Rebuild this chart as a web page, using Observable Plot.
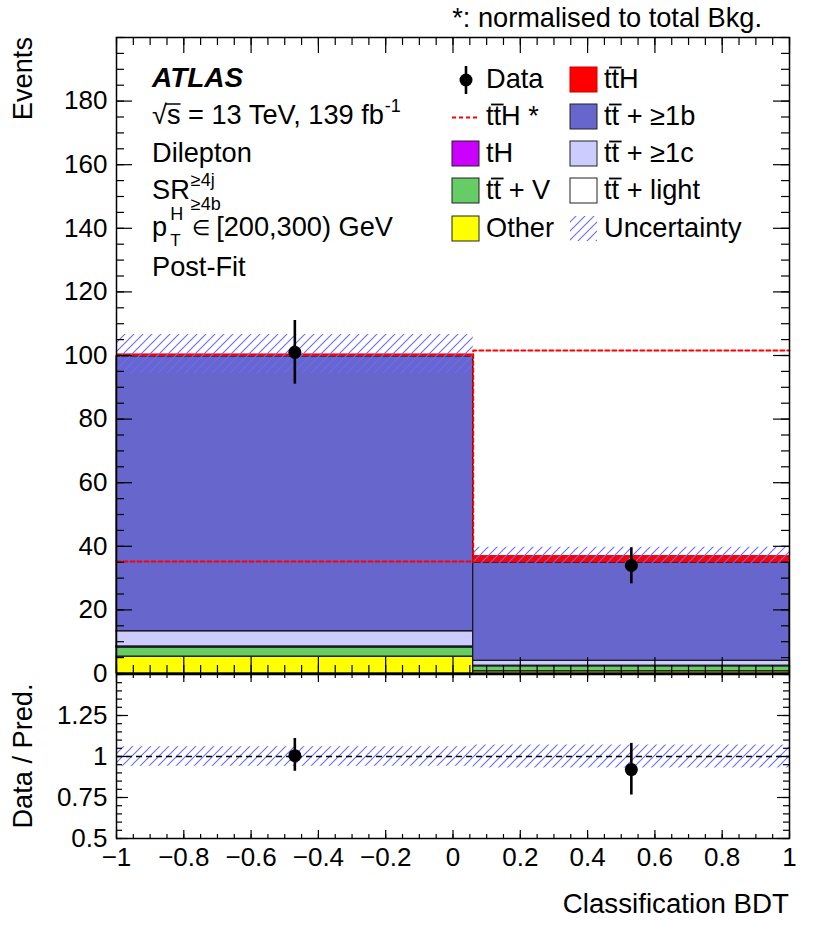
<!DOCTYPE html>
<html><head><meta charset="utf-8">
<script src="https://cdn.jsdelivr.net/npm/d3@7"></script>
<script src="https://cdn.jsdelivr.net/npm/@observablehq/plot@0.6"></script>
<style>
body{margin:0;background:#fff;}
#wrap{position:relative;width:830px;height:936px;}
#wrap svg{position:absolute;left:0;overflow:visible;}
</style></head><body><div id="wrap"></div>
<script>
// ---------------- data ----------------
const binEdges   = [-1, 0.06, 1];
const binCenters = [-0.47, 0.53];
const other   = [5.3, 0.7];
const ttV     = [2.9, 1.6];
const tH      = [0.1, 0.05];
const ttLight = [0.2, 0.1];
const ttC     = [4.8, 1.55];
const ttB     = [86.4, 30.8];
const ttH     = [0.8, 2.3];
const ttHnorm = [35.2, 101.6];
const dataY   = [101, 34];
const dataLo  = [91, 28.2];
const dataHi  = [111, 39.5];
const uncLo   = [94.3, 34.5];
const uncHi   = [106.6, 39.7];
const ratio      = [1.005, 0.92];
const ratioLo    = [0.91, 0.765];
const ratioHi    = [1.11, 1.08];
const ratioUncLo = [0.94, 0.93];
const ratioUncHi = [1.06, 1.07];
const xTicks      = [-1, -0.8, -0.6, -0.4, -0.2, 0, 0.2, 0.4, 0.6, 0.8, 1];
const yTicksMain  = [0, 20, 40, 60, 80, 100, 120, 140, 160, 180];
const yTicksRatio = [0.5, 0.75, 1, 1.25];
const legendCol1 = ["Data", "ttH *", "tH", "tt + V", "Other"];
const legendCol2 = ["ttH", "tt + ≥1b", "tt + ≥1c", "tt + light", "Uncertainty"];

// ---------------- styling ----------------
const FONT = '"Liberation Sans", Arial, Helvetica, sans-serif';
const FS = 26;     // tick labels
const TS = 27.2;   // other texts
const C = {other:"#ffff00", ttV:"#66cc66", tH:"#cc00ff", light:"#ffffff", ttc:"#ccccff", ttb:"#6666cc", ttH:"#ff0000", hatch:"#6a6aff"};
const W = 830, mL = 116, mR = 41;
const mainH = 674, mainT = 37, mainB = 1;
const pw = W - mL - mR, phMain = mainH - mainT - mainB;
const ratioTop = 672, ratioH = 264, rT = 2, rB = 98;
const phRatio = ratioH - rT - rB;

// ---------------- tables built from arrays ----------------
const stackDefs = [
  {v: other, fill: C.other}, {v: ttV, fill: C.ttV}, {v: tH, fill: C.tH},
  {v: ttLight, fill: C.light}, {v: ttC, fill: C.ttc}, {v: ttB, fill: C.ttb},
  {v: ttH, fill: C.ttH, stroke: "none"}
];
const stackRows = [];
binCenters.forEach((_, i) => {
  let c = 0;
  for (const s of stackDefs) {
    stackRows.push({x1: binEdges[i], x2: binEdges[i+1], y1: c, y2: c + s.v[i], fill: s.fill, stroke: s.stroke || "#1a1a1a"});
    c += s.v[i];
  }
});
const uncRows = binCenters.map((_, i) => ({x1: binEdges[i], x2: binEdges[i+1], lo: uncLo[i], hi: uncHi[i]}));
const rUncRows = binCenters.map((_, i) => ({x1: binEdges[i], x2: binEdges[i+1], lo: ratioUncLo[i], hi: ratioUncHi[i]}));
const ttHstep = binEdges.map((e, i) => ({x: e, y: ttHnorm[Math.min(i, ttHnorm.length - 1)]}));
const dataRows = binCenters.map((x, i) => ({x, y: dataY[i], lo: dataLo[i], hi: dataHi[i]}));
const ratioRows = binCenters.map((x, i) => ({x, y: ratio[i], lo: ratioLo[i], hi: ratioHi[i]}));
const xMinor = d3.range(41).map(i => -1 + i * 0.05);
const yMinorMain = d3.range(41).map(i => i * 5);
const yMinorRatio = d3.range(21).map(i => 0.5 + i * 0.05);

function tickMarks(xMaj, xMin, yMaj, yMin, ph, xL, xl, yL, yl) {
  const sw = 1.2;
  return [
    Plot.ruleX(xMin, {x: d => d, insetTop: ph - xl, strokeWidth: sw}),
    Plot.ruleX(xMaj, {x: d => d, insetTop: ph - xL, strokeWidth: sw}),
    Plot.ruleX(xMin, {x: d => d, insetBottom: ph - xl, strokeWidth: sw}),
    Plot.ruleX(xMaj, {x: d => d, insetBottom: ph - xL, strokeWidth: sw}),
    Plot.ruleY(yMin, {y: d => d, insetRight: pw - yl, strokeWidth: sw}),
    Plot.ruleY(yMaj, {y: d => d, insetRight: pw - yL, strokeWidth: sw}),
    Plot.ruleY(yMin, {y: d => d, insetLeft: pw - yl, strokeWidth: sw}),
    Plot.ruleY(yMaj, {y: d => d, insetLeft: pw - yL, strokeWidth: sw})
  ];
}
const baseStyle = {background: "transparent", overflow: "visible", fontFamily: FONT, fontSize: FS + "px", color: "black"};

// ---------------- main panel ----------------
const mainSvg = Plot.plot({
  width: W, height: mainH, marginLeft: mL, marginRight: mR, marginTop: mainT, marginBottom: mainB,
  style: baseStyle,
  color: {type: "identity"},
  x: {domain: [-1, 1], axis: null},
  y: {domain: [0, 200], ticks: yTicksMain, tickSize: 0, tickPadding: 9, tickFormat: d3.format("d"), label: null},
  marks: [
    Plot.rect(stackRows, {x1: "x1", x2: "x2", y1: "y1", y2: "y2", fill: "fill", stroke: "stroke", strokeWidth: 1.3}),
    Plot.rect(uncRows, {x1: "x1", x2: "x2", y1: "lo", y2: "hi", fill: "url(#hatchMain)"}),
    Plot.line(ttHstep, {x: "x", y: "y", curve: "step-after", stroke: C.ttH, strokeWidth: 2, strokeDasharray: "4,3"}),
    Plot.ruleX(dataRows, {x: "x", y1: "lo", y2: "hi", stroke: "black", strokeWidth: 2.6}),
    Plot.dot(dataRows, {x: "x", y: "y", r: 6.5, fill: "black", stroke: "none"}),
    ...tickMarks(xTicks, xMinor, yTicksMain, yMinorMain, phMain, 16, 8, 16, 8),
    Plot.frame({stroke: "black", strokeWidth: 1.5})
  ]
});
mainSvg.style.top = "0px";
document.getElementById("wrap").appendChild(mainSvg);

// ---------------- ratio panel ----------------
const ratioSvg = Plot.plot({
  width: W, height: ratioH, marginLeft: mL, marginRight: mR, marginTop: rT, marginBottom: rB,
  style: baseStyle,
  x: {domain: [-1, 1], ticks: xTicks, tickSize: 0, tickPadding: 9, tickFormat: d3.format("~g"), label: null},
  y: {domain: [0.5, 1.5], ticks: yTicksRatio, tickSize: 0, tickPadding: 9, tickFormat: d3.format("~g"), label: null},
  marks: [
    Plot.rect(rUncRows, {x1: "x1", x2: "x2", y1: "lo", y2: "hi", fill: "url(#hatchRatio)"}),
    Plot.ruleY([1], {stroke: "black", strokeWidth: 1.3, strokeDasharray: "6,4"}),
    Plot.ruleX(ratioRows, {x: "x", y1: "lo", y2: "hi", stroke: "black", strokeWidth: 2.6}),
    Plot.dot(ratioRows, {x: "x", y: "y", r: 6.5, fill: "black", stroke: "none"}),
    ...tickMarks(xTicks, xMinor, yTicksRatio, yMinorRatio, phRatio, 8, 4, 12, 6),
    Plot.frame({stroke: "black", strokeWidth: 1.5})
  ]
});
ratioSvg.style.top = ratioTop + "px";
document.getElementById("wrap").appendChild(ratioSvg);

// ---------------- hatch patterns ----------------
function addHatch(svg, id) {
  const p = d3.select(svg).insert("defs", ":first-child").append("pattern")
    .attr("id", id).attr("patternUnits", "userSpaceOnUse").attr("width", 9).attr("height", 9);
  p.append("path").attr("d", "M-2,2 L2,-2 M0,9 L9,0 M7,11 L11,7")
    .attr("stroke", C.hatch).attr("stroke-width", 1.1).attr("fill", "none");
}
addHatch(mainSvg, "hatchMain");
addHatch(ratioSvg, "hatchRatio");

// ---------------- text helpers ----------------
function mkText(g, x, y, s, size = TS, attrs = {}) {
  const t = g.append("text").attr("x", x).attr("y", y).attr("font-size", size)
    .attr("text-anchor", "start").text(s);
  for (const k in attrs) t.attr(k, attrs[k]);
  return t;
}
const wid = t => t.node().getComputedTextLength();
function overbar(g, t, i, y, ext = 2) {
  const e = t.node().getExtentOfChar(i);
  g.append("line").attr("x1", e.x - ext).attr("x2", e.x + e.width + ext).attr("y1", y).attr("y2", y)
    .attr("stroke", "black").attr("stroke-width", 1.8);
}

const g = d3.select(mainSvg).append("g").attr("font-family", FONT).attr("fill", "black").attr("text-anchor", "start");
// axis title
mkText(g, 0, 0, "Events", TS, {"text-anchor": "end", transform: "translate(32,37) rotate(-90)"});
// note
mkText(g, 762, 27, "*: normalised to total Bkg.", TS, {"text-anchor": "end"});
// ATLAS block
const X0 = 152;
mkText(g, X0, 87, "ATLAS", TS + 0.8, {"font-weight": "bold", "font-style": "italic"});
const l2 = mkText(g, X0, 124, "√s = 13 TeV, 139 fb");
{ const e0 = l2.node().getExtentOfChar(0), e1 = l2.node().getExtentOfChar(1);
  g.append("line").attr("x1", e0.x + e0.width - 1).attr("x2", e1.x + e1.width).attr("y1", 104).attr("y2", 104)
    .attr("stroke", "black").attr("stroke-width", 1.5); }
mkText(g, X0 + wid(l2) + 1, 112, "-1", 18);
mkText(g, X0, 162, "Dilepton");
const sr = mkText(g, X0, 199, "SR");
mkText(g, X0 + wid(sr) + 1, 186, "≥4j", 18);
mkText(g, X0 + wid(sr) + 1, 210, "≥4b", 18);
const pp = mkText(g, X0, 236, "p");
const subX = X0 + wid(pp) + 3;
const hh = mkText(g, subX, 220, "H", 18);
mkText(g, subX, 246, "T", 17);
const el = mkText(g, subX + wid(hh) + 9, 235, "∈", 21);
mkText(g, subX + wid(hh) + 9 + wid(el) + 6, 236, "[200,300) GeV");
mkText(g, X0, 276, "Post-Fit");

// legend
const rowsY = [88, 125, 162, 199, 237];
const c1sx = 452, c1tx = 486, c2sx = 570, c2tx = 604, swW = 27, swH = 25;
function swatch(x, base, fill, stroke = "#222") {
  g.append("rect").attr("x", x).attr("y", base - 21).attr("width", swW).attr("height", swH)
    .attr("fill", fill).attr("stroke", stroke).attr("stroke-width", 1);
}
function legendText(x, base, s) {
  const t = mkText(g, x, base, s);
  if (s.startsWith("tt")) overbar(g, t, 1, base - 20.5, 2.5);
}
// col 1
g.append("line").attr("x1", 466).attr("x2", 466).attr("y1", rowsY[0] - 22).attr("y2", rowsY[0] + 6).attr("stroke", "black").attr("stroke-width", 2.6);
g.append("circle").attr("cx", 466).attr("cy", rowsY[0] - 8).attr("r", 6.5).attr("fill", "black");
g.append("line").attr("x1", c1sx).attr("x2", c1sx + 28).attr("y1", rowsY[1] - 7.5).attr("y2", rowsY[1] - 7.5)
  .attr("stroke", C.ttH).attr("stroke-width", 2).attr("stroke-dasharray", "4,3");
swatch(c1sx, rowsY[2], C.tH);
swatch(c1sx, rowsY[3], C.ttV);
swatch(c1sx, rowsY[4], C.other);
legendCol1.forEach((s, i) => legendText(c1tx, rowsY[i], s));
// col 2
swatch(c2sx, rowsY[0], C.ttH, "#cc0000");
swatch(c2sx, rowsY[1], C.ttb);
swatch(c2sx, rowsY[2], C.ttc);
swatch(c2sx, rowsY[3], C.light);
g.append("rect").attr("x", c2sx).attr("y", rowsY[4] - 21).attr("width", swW).attr("height", swH).attr("fill", "url(#hatchMain)");
legendCol2.forEach((s, i) => legendText(c2tx, rowsY[i], s));

// ratio panel titles
const g2 = d3.select(ratioSvg).append("g").attr("font-family", FONT).attr("fill", "black").attr("text-anchor", "start");
mkText(g2, 0, 0, "Data / Pred.", TS, {"text-anchor": "middle", transform: `translate(32,${756 - ratioTop}) rotate(-90)`});
mkText(g2, 789, 913 - ratioTop, "Classification BDT", TS + 0.5, {"text-anchor": "end"});
</script>
</body></html>
